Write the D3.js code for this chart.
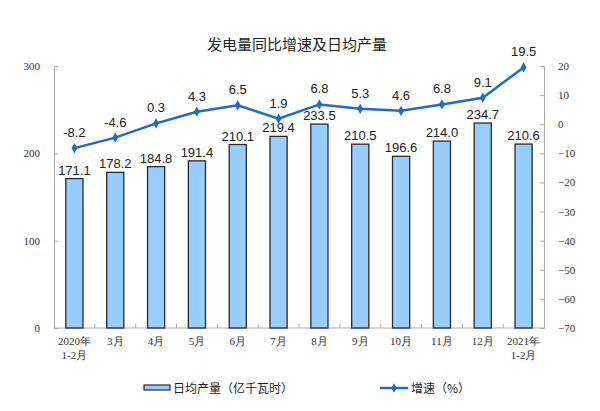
<!DOCTYPE html>
<html><head><meta charset="utf-8">
<script src="https://cdn.jsdelivr.net/npm/d3@7"></script>
<style>body{margin:0;background:#fff}</style>
</head><body><svg id="c" width="600" height="411"></svg>
<script>
const categories = ["2020年\n1-2月","3月","4月","5月","6月","7月","8月","9月","10月","11月","12月","2021年\n1-2月"];
const dailyOutput = [171.1,178.2,184.8,191.4,210.1,219.4,233.5,210.5,196.6,214.0,234.7,210.6];
const growth = [-8.2,-4.6,0.3,4.3,6.5,1.9,6.8,5.3,4.6,6.8,9.1,19.5];
const leftTicks = [0,100,200,300];
const rightTicks = [20,10,0,-10,-20,-30,-40,-50,-60,-70];
const title = "发电量同比增速及日均产量";
const legendBar = "日均产量（亿千瓦时）";
const legendLine = "增速（%）";

const svg = d3.select("#c");
const L = 54, R = 544, T = 66, B = 328;
const x = d3.scaleBand().domain(categories).range([L, R]).paddingInner(0.58).paddingOuter(0.29);
const yL = d3.scaleLinear().domain([0,300]).range([B,T]);
const yR = d3.scaleLinear().domain([-70,20]).range([B,T]);
const lineColor = "#1f6cc4";
const tickFont = "'Liberation Serif', serif";

svg.append("text").attr("x",297).attr("y",50).attr("text-anchor","middle")
  .attr("font-family","'Noto Sans CJK SC', sans-serif").attr("font-size",15).attr("fill","#222").text(title);

// left axis
const gl = svg.append("g").attr("transform",`translate(${L},0)`)
  .call(d3.axisLeft(yL).tickValues(leftTicks).tickSize(-4).tickPadding(14));
gl.select(".domain").attr("stroke","#aaa");
gl.selectAll(".tick line").attr("stroke","#aaa");
gl.selectAll(".tick text").attr("font-family",tickFont).attr("font-size",11).attr("fill","#333");

// right axis
const gr = svg.append("g").attr("transform",`translate(${R},0)`)
  .call(d3.axisRight(yR).tickValues(rightTicks).tickSize(-4).tickPadding(14));
gr.select(".domain").attr("stroke","#aaa");
gr.selectAll(".tick line").attr("stroke","#aaa");
gr.selectAll(".tick text").attr("font-family",tickFont).attr("font-size",11).attr("fill","#333");

// bottom axis line and ticks between categories
svg.append("line").attr("x1",L).attr("x2",R).attr("y1",B).attr("y2",B).attr("stroke","#aaa");
const step = x.step();
categories.forEach((c,i)=>{ if(i>0){ const xx = x(c)-(step-x.bandwidth())/2;
  svg.append("line").attr("x1",xx).attr("x2",xx).attr("y1",B).attr("y2",B-4).attr("stroke","#aaa");}});

// bars
svg.selectAll("rect.bar").data(dailyOutput).join("rect").attr("class","bar")
  .attr("x",(d,i)=>x(categories[i])).attr("width",x.bandwidth())
  .attr("y",d=>yL(d)).attr("height",d=>B-yL(d))
  .attr("fill","#99ccff").attr("stroke","#2a2a2a").attr("stroke-width",1.3);

svg.selectAll("text.bl").data(dailyOutput).join("text").attr("class","bl")
  .attr("x",(d,i)=>x(categories[i])+x.bandwidth()/2).attr("y",d=>yL(d)-4)
  .attr("text-anchor","middle").attr("font-family","'Liberation Sans', Arial, sans-serif")
  .attr("font-size",13).attr("fill","#222").text(d=>d.toFixed(1));

// category labels
categories.forEach((c,i)=>{
  const t = svg.append("text").attr("x",x(c)+x.bandwidth()/2).attr("y",345)
    .attr("text-anchor","middle").attr("font-family",tickFont).attr("font-size",11).attr("fill","#333");
  c.split("\n").forEach((s,j)=>t.append("tspan").attr("x",x(c)+x.bandwidth()/2).attr("dy",j?14:0).text(s));
});

// line
const cx = (d,i)=>x(categories[i])+x.bandwidth()/2;
svg.append("path").datum(growth)
  .attr("d",d3.line().x(cx).y(d=>yR(d)))
  .attr("fill","none").attr("stroke",lineColor).attr("stroke-width",2.5);
svg.selectAll("path.mk").data(growth).join("path").attr("class","mk")
  .attr("d",d3.symbol(d3.symbolDiamond,30))
  .attr("transform",(d,i)=>`translate(${cx(d,i)},${yR(d)})`).attr("fill",lineColor);
svg.selectAll("text.ll").data(growth).join("text").attr("class","ll")
  .attr("x",cx).attr("y",d=>yR(d)-11)
  .attr("text-anchor","middle").attr("font-family","'Liberation Sans', Arial, sans-serif")
  .attr("font-size",13).attr("fill","#222").text(d=>d.toFixed(1));

// legend
svg.append("rect").attr("x",144).attr("y",385).attr("width",26).attr("height",5)
  .attr("fill","#99ccff").attr("stroke","#2a2a2a").attr("stroke-width",1.2);
svg.append("text").attr("x",173).attr("y",392.5).attr("font-family","'Noto Sans CJK SC', sans-serif")
  .attr("font-size",12).attr("fill","#222").text(legendBar);
svg.append("line").attr("x1",380).attr("x2",408).attr("y1",388).attr("y2",388).attr("stroke",lineColor).attr("stroke-width",2.5);
svg.append("path").attr("d",d3.symbol(d3.symbolDiamond,25)).attr("transform","translate(394,388)").attr("fill",lineColor);
svg.append("text").attr("x",411).attr("y",392.5).attr("font-family","'Noto Sans CJK SC', sans-serif")
  .attr("font-size",12).attr("fill","#222").text(legendLine);
</script></body></html>
